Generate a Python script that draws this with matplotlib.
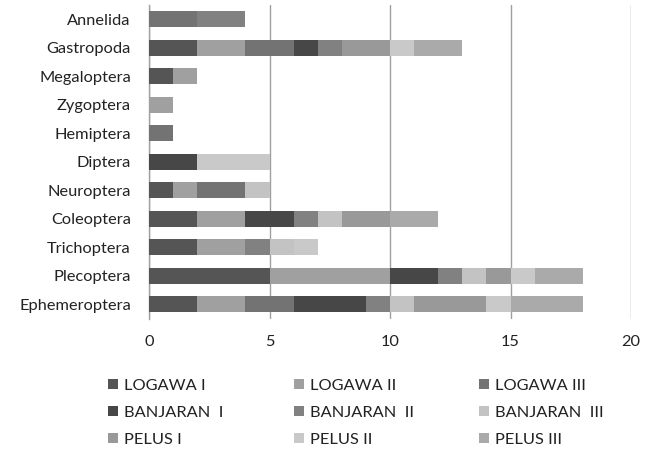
import matplotlib
matplotlib.use("Agg")
import matplotlib.pyplot as plt
import numpy as np

plt.rcParams['font.family'] = ['Lato', 'DejaVu Sans']

categories = ["Annelida", "Gastropoda", "Megaloptera", "Zygoptera", "Hemiptera",
              "Diptera", "Neuroptera", "Coleoptera", "Trichoptera", "Plecoptera",
              "Ephemeroptera"]
series_names = ["LOGAWA I", "LOGAWA II", "LOGAWA III",
                "BANJARAN  I", "BANJARAN  II", "BANJARAN  III",
                "PELUS I", "PELUS II", "PELUS III"]
logawa_1 = [0, 2, 1, 0, 0, 0, 1, 2, 2, 5, 2]
logawa_2 = [0, 2, 1, 1, 0, 0, 1, 2, 2, 5, 2]
logawa_3 = [2, 2, 0, 0, 1, 0, 2, 0, 0, 0, 2]
banjaran_1 = [0, 1, 0, 0, 0, 2, 0, 2, 0, 2, 3]
banjaran_2 = [2, 1, 0, 0, 0, 0, 0, 1, 1, 1, 1]
banjaran_3 = [0, 0, 0, 0, 0, 0, 1, 1, 1, 1, 1]
pelus_1 = [0, 2, 0, 0, 0, 0, 0, 2, 0, 1, 3]
pelus_2 = [0, 1, 0, 0, 0, 3, 0, 0, 1, 1, 1]
pelus_3 = [0, 2, 0, 0, 0, 0, 0, 2, 0, 2, 3]
series_values = [logawa_1, logawa_2, logawa_3, banjaran_1, banjaran_2,
                 banjaran_3, pelus_1, pelus_2, pelus_3]
colors = ["#555555", "#a0a0a0", "#737373", "#474747", "#818181",
          "#c3c3c3", "#999999", "#c9c9c9", "#aaaaaa"]
x_ticks = [0, 5, 10, 15, 20]

FS = 11.8
TXT = '#222222'

W, H = 656, 450
fig = plt.figure(figsize=(W / 100, H / 100), dpi=100)
ax = fig.add_axes([149 / W, 1 - 318.5 / H, (631 - 149) / W, (318.5 - 5) / H])

y = np.arange(len(categories))
left = np.zeros(len(categories))
handles = []
for name, vals, c in zip(series_names, series_values, colors):
    vals = np.array(vals, dtype=float)
    b = ax.barh(y, vals, left=left, height=0.56, color=c, label=name,
                edgecolor='none', zorder=3)
    handles.append(b)
    left += vals

ax.set_ylim(len(categories) - 0.5, -0.5)
ax.set_xlim(0, 20)
ax.set_xticks(x_ticks)
ax.set_xticklabels([str(t) for t in x_ticks])
ax.set_yticks(y)
ax.set_yticklabels(categories)
ax.tick_params(axis='both', length=0, labelsize=FS, labelcolor=TXT)
ax.tick_params(axis='x', pad=12)
ax.tick_params(axis='y', pad=13)
for s in ['top', 'right', 'bottom']:
    ax.spines[s].set_visible(False)
ax.spines['left'].set_color('#a0a0a0')
ax.spines['left'].set_linewidth(1)
ax.xaxis.grid(True, color='#a0a0a0', linewidth=1, zorder=0)
ax.set_axisbelow(True)

# legend: three columns, each its own legend
col_x = [108, 294, 479]
for ci in range(3):
    hs = [handles[ci + 3 * r] for r in range(3)]
    ls = [series_names[ci + 3 * r] for r in range(3)]
    leg = fig.legend(hs, ls, loc='upper left',
                     bbox_to_anchor=(col_x[ci] / W, 1 - 378.5 / H),
                     frameon=False, fontsize=FS, handlelength=0.6,
                     handleheight=0.6, handletextpad=0.4, labelspacing=0.81,
                     borderaxespad=0, borderpad=0, labelcolor=TXT)

fig.savefig("out.png", dpi=100)
